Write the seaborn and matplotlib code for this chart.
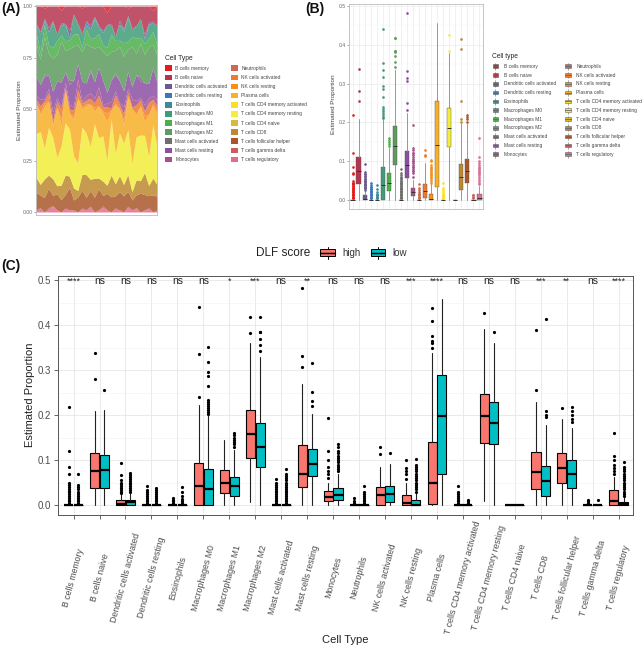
import numpy as np
import pandas as pd
import seaborn as sns
import matplotlib
matplotlib.use('Agg')
import matplotlib.pyplot as plt
from matplotlib.patches import Patch, Rectangle
from matplotlib.lines import Line2D
from matplotlib.legend_handler import HandlerBase
from matplotlib.ticker import MultipleLocator
from matplotlib.transforms import blended_transform_factory

sns.set_theme(style="whitegrid")
plt.rcParams['font.family'] = ['Liberation Sans', 'DejaVu Sans']

# ---------------- data ----------------
cell_types = ["B cells memory", "B cells naive", "Dendritic cells activated",
              "Dendritic cells resting", "Eosinophils", "Macrophages M0",
              "Macrophages M1", "Macrophages M2", "Mast cells activated",
              "Mast cells resting", "Monocytes", "Neutrophils", "NK cells activated",
              "NK cells resting", "Plasma cells", "T cells CD4 memory activated",
              "T cells CD4 memory resting", "T cells CD4 naive", "T cells CD8",
              "T cells follicular helper", "T cells gamma delta", "T cells regulatory"]
cell_colors = ["#E41A1C", "#B5354F", "#6B5A8E", "#3C78B8", "#3A8C9A", "#3F9C78",
               "#4DAF4A", "#5D9B5E", "#6E6E6E", "#8C4FA2", "#A8508A", "#D0674F",
               "#EE7A2A", "#FA8F14", "#F9B027", "#FDDF26", "#F2EE3A", "#D8BA35",
               "#BC8830", "#A9572A", "#C95F5C", "#E26B92"]

# panel A: estimated fractions per sample (30 samples shown)
a_bmem   = [0, 0, .01, 0, 0, 0, .02, 0, 0, 0, 0, .01, 0, 0, 0, 0, 0, .03, 0, 0, 0, 0, .01, 0, 0, 0, 0, 0, .02, 0]
a_bnai   = [.08, .12, .05, .10, .07, .14, .06, .09, .11, .04, .08, .13, .07, .10, .05, .09, .12, .06, .08, .15, .07, .10, .04, .11, .09, .06, .13, .08, .05, .10]
a_dcact  = [0, .01, 0, .02, 0, 0, .01, 0, .03, 0, .01, 0, 0, .02, 0, .01, 0, 0, .01, 0, .02, 0, 0, .01, 0, 0, .02, 0, .01, 0]
a_dcres  = [0, 0, .01, 0, 0, 0, 0, .01, 0, 0, 0, 0, .02, 0, 0, 0, .01, 0, 0, 0, 0, 0, .01, 0, 0, 0, 0, .01, 0, 0]
a_eos    = [0, 0, 0, 0, .01, 0, 0, 0, 0, 0, 0, 0, 0, 0, .01, 0, 0, 0, 0, 0, 0, .01, 0, 0, 0, 0, 0, 0, 0, 0]
a_m0     = [.04, .09, .02, .06, .12, .03, .05, .08, .01, .10, .04, .07, .02, .05, .09, .03, .06, .11, .04, .02, .08, .05, .13, .03, .06, .09, .02, .07, .04, .10]
a_m1     = [.05, .03, .06, .04, .05, .07, .03, .05, .04, .06, .05, .02, .07, .04, .05, .06, .03, .04, .08, .05, .03, .06, .04, .05, .07, .03, .05, .04, .06, .05]
a_m2     = [.15, .12, .18, .10, .16, .13, .20, .11, .14, .17, .09, .15, .19, .12, .16, .10, .14, .18, .13, .11, .17, .15, .12, .20, .10, .16, .13, .18, .11, .14]
a_mcact  = [0, 0, .01, 0, 0, 0, 0, 0, .02, 0, 0, 0, 0, .01, 0, 0, 0, 0, 0, .01, 0, 0, 0, 0, 0, .02, 0, 0, 0, 0]
a_mcres  = [.09, .07, .11, .06, .10, .08, .12, .05, .09, .13, .07, .10, .06, .11, .08, .09, .12, .05, .10, .08, .11, .07, .09, .06, .12, .08, .10, .07, .13, .09]
a_mono   = [.02, .03, .01, .02, .04, .02, .01, .03, .02, .02, .05, .01, .02, .03, .02, .04, .01, .02, .03, .02, .01, .03, .02, .04, .02, .01, .03, .02, .02, .03]
a_neut   = [0, 0, 0, 0, 0, 0, 0, 0, 0, 0, 0, 0, .01, 0, 0, 0, 0, 0, 0, 0, 0, 0, 0, 0, 0, 0, 0, .01, 0, 0]
a_nkact  = [.02, .03, .01, .04, .02, .03, .05, .01, .02, .03, .04, .02, .01, .03, .02, .05, .02, .03, .01, .04, .02, .03, .02, .01, .04, .03, .02, .05, .02, .03]
a_nkres  = [0, .01, .02, 0, .01, 0, .03, .01, 0, .02, 0, .01, .01, 0, .02, 0, .01, .04, 0, .01, 0, .02, .01, 0, .01, 0, .03, 0, .01, .02]
a_plasma = [.14, .08, .20, .12, .05, .25, .10, .16, .07, .18, .30, .09, .13, .22, .06, .15, .11, .19, .04, .24, .12, .08, .17, .27, .10, .14, .06, .21, .09, .16]
a_cd4ma  = [0, .01, 0, 0, .02, 0, 0, .01, 0, 0, 0, .01, 0, 0, .01, 0, 0, 0, .02, 0, 0, 0, .01, 0, 0, 0, 0, .01, 0, 0]
a_cd4mr  = [.20, .24, .15, .22, .18, .14, .19, .26, .21, .16, .13, .23, .20, .17, .25, .19, .22, .12, .24, .15, .21, .18, .23, .14, .20, .22, .17, .13, .25, .19]
a_cd4n   = [0, 0, 0, 0, 0, 0, 0, 0, 0, 0, 0, 0, 0, 0, 0, 0, 0, 0, 0, 0, 0, 0, 0, 0, 0, 0, 0, 0, 0, 0]
a_cd8    = [.07, .05, .09, .06, .08, .04, .07, .10, .05, .06, .03, .08, .11, .06, .09, .05, .07, .04, .10, .06, .08, .05, .09, .04, .07, .06, .10, .05, .08, .06]
a_tfh    = [.08, .06, .07, .09, .05, .08, .06, .07, .10, .05, .07, .09, .06, .08, .07, .10, .05, .08, .07, .06, .09, .07, .08, .05, .06, .09, .07, .06, .08, .07]
a_tgd    = [0, 0, 0, .01, 0, 0, 0, 0, 0, 0, 0, 0, 0, 0, 0, 0, .01, 0, 0, 0, 0, 0, 0, 0, 0, 0, 0, 0, 0, 0]
a_treg   = [.01, .02, 0, .01, .03, .01, 0, .02, .01, .01, 0, .02, .01, .03, 0, .01, .02, .01, 0, .02, .01, 0, .03, .01, .02, 0, .01, .02, 0, .01]

# panel B: all samples, box summaries
b_q1  = [0, .040, 0, 0, 0, 0, .023, .090, 0, .057, .010, 0, .005, 0, .034, 0, .136, 0, .025, .043, 0, 0]
b_med = [0, .076, .003, 0, 0, .039, .045, .140, 0, .089, .020, 0, .024, .002, .143, 0, .186, 0, .059, .074, 0, .004]
b_q3  = [0, .112, .012, 0, 0, .085, .070, .190, 0, .127, .032, 0, .042, .016, .255, 0, .238, 0, .094, .105, 0, .015]
b_hi  = [0, .210, .026, 0, 0, .210, .135, .335, 0, .225, .052, 0, .095, .040, .457, 0, .380, 0, .195, .195, 0, .035]

# panel C: DLF score high / low groups
hi_q1  = [0, .037, 0, 0, 0, 0, .027, .105, 0, .040, .010, 0, 0, 0, .003, 0, .137, 0, .035, .049, 0, 0]
hi_med = [0, .075, .002, 0, 0, .043, .049, .158, 0, .070, .018, 0, .023, .004, .049, 0, .198, 0, .074, .083, 0, .010]
hi_q3  = [0, .115, .011, 0, 0, .093, .077, .212, 0, .134, .032, 0, .040, .023, .141, 0, .246, 0, .117, .116, 0, .033]
hi_lo  = [0, 0, 0, 0, 0, 0, 0, .007, 0, 0, 0, 0, 0, 0, 0, 0, .010, 0, 0, 0, 0, 0]
hi_hi  = [0, .210, .025, 0, 0, .222, .145, .360, 0, .268, .050, 0, .085, .050, .337, 0, .391, 0, .230, .192, 0, .062]
hi_fliers = [
    [.004, .008, .012, .016, .02, .024, .028, .032, .036, .04, .045, .049, .07, .084, .12, .218],
    [.28, .338],
    [.027, .03, .034, .038, .042, .046, .05, .055, .066, .094],
    [.004, .008, .012, .016, .02, .024, .028, .033, .043],
    [.004, .008, .012, .016],
    [.239, .336, .44],
    [],
    [.382, .417],
    [.004, .008, .012, .016, .02, .024, .028, .032, .036, .04, .045, .05, .057],
    [.306, .332, .483],
    [.06, .07, .075, .085, .1, .12, .193],
    [.004, .008, .015],
    [.113, .13],
    [.058, .068, .075, .082, .1],
    [.35, .36, .365, .375, .41, .438],
    [.004, .008, .012, .016, .02, .025, .03, .043],
    [.426],
    [],
    [.255, .39],
    [.215],
    [.004, .008, .012],
    [.07, .075, .082, .09, .1, .11, .16],
]
lo_q1  = [0, .038, .001, 0, 0, 0, .021, .085, 0, .065, .012, 0, .007, 0, .068, 0, .135, 0, .021, .038, 0, 0]
lo_med = [0, .077, .006, 0, 0, .035, .042, .128, 0, .092, .022, 0, .025, .001, .198, 0, .182, 0, .054, .069, 0, .002]
lo_q3  = [0, .112, .012, 0, 0, .081, .063, .183, 0, .124, .038, 0, .043, .012, .288, 0, .229, 0, .087, .099, 0, .007]
lo_lo  = [0, 0, 0, 0, 0, 0, 0, 0, 0, 0, 0, 0, 0, 0, 0, 0, 0, 0, 0, 0, 0, 0]
lo_hi  = [0, .211, .028, 0, 0, .200, .123, .330, 0, .202, .070, 0, .092, .028, .457, 0, .360, 0, .178, .172, 0, .017]
lo_fliers = [
    [.004, .008, .012, .016, .02, .025, .03, .035, .04, .045, .068],
    [.255],
    [.03, .034, .038, .042, .046, .05, .054, .058, .062, .066, .072],
    [.004, .008, .012, .016, .02, .024, .028, .033, .038],
    [.004, .008, .013, .02, .028, .039],
    [.203, .207, .211, .215, .22, .225, .23, .234, .265, .287, .295, .318, .352],
    [.13, .135, .14, .145, .15, .155, .16],
    [.342, .355, .37, .384, .385, .417],
    [.004, .008, .012, .016, .02, .024, .028, .032, .036, .04, .045, .05, .055, .06, .065, .07, .08],
    [.22, .232, .251, .315],
    [.075, .08, .085, .09, .095, .1, .105, .11, .115, .12, .128, .135],
    [.004, .008, .012, .016, .02, .025, .03, .042],
    [.115],
    [.03, .035, .04, .045, .05, .055, .06, .065, .07, .075, .08, .085, .09, .103],
    [],
    [.004, .008, .012],
    [.385],
    [],
    [.195, .2, .21, .414],
    [.185, .192, .2, .21, .218],
    [.012],
    [.02, .025, .03, .035, .04, .045, .05, .055, .06, .065, .07, .075, .08, .085, .095],
]
sig_labels = ["****", "ns", "ns", "ns", "ns", "ns", "*", "***", "ns", "**", "ns",
              "ns", "ns", "***", "****", "ns", "ns", "ns", "***", "**", "ns", "****"]
group_colors = {"high": "#F8766D", "low": "#00BFC4"}


class BoxKey(HandlerBase):
    """legend key that looks like a small boxplot"""
    def __init__(self, lw=0.5):
        super().__init__()
        self.lw = lw

    def create_artists(self, legend, orig, xd, yd, w, h, fontsize, trans):
        fc, ec = orig.get_facecolor(), orig.get_edgecolor()
        x0, x1 = -xd + 0.12 * w, -xd + 0.88 * w
        y0, y1 = -yd + 0.15 * h, -yd + 0.85 * h
        xm = -xd + w / 2
        whisk = Line2D([xm, xm], [-yd - 0.15 * h, -yd + 1.15 * h], color=ec, lw=self.lw)
        rect = Rectangle((x0, y0), x1 - x0, y1 - y0, facecolor=fc, edgecolor=ec, lw=self.lw)
        med = Line2D([x0, x1], [-yd + h / 2] * 2, color=ec, lw=self.lw * 1.5)
        for a in (whisk, rect, med):
            a.set_transform(trans)
        return [whisk, rect, med]


def make_stats(q1, med, q3, lo, hi, fl):
    return [dict(q1=a, med=b, q3=c, whislo=d, whishi=e, fliers=f)
            for a, b, c, d, e, f in zip(q1, med, q3, lo, hi, fl)]


W, H = 642, 648
fig = plt.figure(figsize=(W / 100, H / 100), dpi=100)


def fx(px):
    return px / W


def fy(py):
    return 1 - py / H


# ---------------- panel A ----------------
ax_a = fig.add_axes([fx(36), fy(215), 121 / W, 210 / H])
a_lists = [a_bmem, a_bnai, a_dcact, a_dcres, a_eos, a_m0, a_m1, a_m2, a_mcact, a_mcres,
           a_mono, a_neut, a_nkact, a_nkres, a_plasma, a_cd4ma, a_cd4mr, a_cd4n,
           a_cd8, a_tfh, a_tgd, a_treg]
frac = pd.DataFrame(np.array(a_lists).T, columns=cell_types)
frac = frac.div(frac.sum(axis=1), axis=0)
xs = np.arange(len(frac))
# first cell type on top, as in ggplot stacking
ax_a.stackplot(xs, *[frac[c].values for c in cell_types[::-1]],
               colors=cell_colors[::-1], alpha=0.85, linewidth=0)
ax_a.set_xlim(xs[0], xs[-1])
ax_a.set_ylim(-0.0146, 1.005)
ax_a.set_yticks([0, 0.25, 0.5, 0.75, 1.0])
ax_a.set_yticklabels(["0.00", "0.25", "0.50", "0.75", "1.00"])
ax_a.set_xticks([])
ax_a.grid(False)
ax_a.tick_params(axis='y', labelsize=3.6, colors='#666666', length=1.5, width=0.4, pad=1, left=True)
for s in ax_a.spines.values():
    s.set_color('#BBBBBB')
    s.set_linewidth(0.6)
fig.text(fx(20), fy(110), "Estimated Proportion", rotation=90, ha='center', va='center',
         fontsize=4.6, color='#444444')

leg_a = fig.legend(handles=[Patch(facecolor=c, edgecolor='none') for c in cell_colors],
                   labels=cell_types, ncol=2, loc='upper left',
                   bbox_to_anchor=(fx(165), fy(55)), frameon=False, fontsize=3.5,
                   title="Cell Type", title_fontsize=4.8, alignment='left',
                   handlelength=1.45, handleheight=1.4, labelspacing=0.72,
                   handletextpad=0.7, columnspacing=0.7, borderpad=0, borderaxespad=0)
for t in leg_a.get_texts():
    t.set_color('#444444')

# ---------------- panel B ----------------
ax_b = fig.add_axes([fx(349), fy(209), 134 / W, 205 / H])
pos = np.arange(len(cell_types))
b_fliers = [sorted(f for f in h + l if f > top) for h, l, top in zip(hi_fliers, lo_fliers, b_hi)]
b_stats = make_stats(b_q1, b_med, b_q3, [0] * len(b_q1), b_hi, b_fliers)
art_b = ax_b.bxp(b_stats, positions=pos, widths=0.72, patch_artist=True, showcaps=False,
                 boxprops=dict(linewidth=0.3, edgecolor='#555555'),
                 whiskerprops=dict(color='#8A8A8A', linewidth=0.6),
                 medianprops=dict(color='#333333', linewidth=0.7),
                 flierprops=dict(marker='o', markersize=1.9, markeredgecolor='none'),
                 manage_ticks=False)
for i, c in enumerate(cell_colors):
    art_b['boxes'][i].set_facecolor(c)
    art_b['fliers'][i].set_markerfacecolor(c)
ax_b.set_xlim(-0.6, 21.6)
ax_b.set_ylim(-0.0232, 0.5052)
ax_b.set_xticks(pos)
ax_b.set_xticklabels([])
ax_b.set_yticks([0, .1, .2, .3, .4, .5])
ax_b.set_yticklabels(["0.0", "0.1", "0.2", "0.3", "0.4", "0.5"])
ax_b.yaxis.set_minor_locator(MultipleLocator(0.05))
ax_b.grid(which='major', color='#EBEBEB', linewidth=0.5)
ax_b.grid(which='minor', axis='y', color='#F3F3F3', linewidth=0.35)
ax_b.set_axisbelow(True)
ax_b.tick_params(axis='y', labelsize=3.6, colors='#666666', length=1.5, width=0.4, pad=1, left=True)
ax_b.tick_params(axis='x', length=0)
for s in ax_b.spines.values():
    s.set_color('#BBBBBB')
    s.set_linewidth(0.6)
fig.text(fx(334), fy(104), "Estimated Proportion", rotation=90, ha='center', va='center',
         fontsize=4.6, color='#444444')

leg_b = fig.legend(handles=[Patch(facecolor=c, edgecolor='#666666') for c in cell_colors],
                   labels=cell_types, ncol=2, loc='upper left',
                   bbox_to_anchor=(fx(492), fy(53)), frameon=False, fontsize=3.5,
                   title="Cell type", title_fontsize=4.8, alignment='left',
                   handlelength=1.4, handleheight=1.25, labelspacing=0.74,
                   handletextpad=1.0, columnspacing=1.8, borderpad=0, borderaxespad=0,
                   handler_map={Patch: BoxKey(0.4)})
for t in leg_b.get_texts():
    t.set_color('#444444')

# ---------------- panel C ----------------
ax_c = fig.add_axes([fx(58), fy(515), 575 / W, 239 / H])
hi_stats = make_stats(hi_q1, hi_med, hi_q3, hi_lo, hi_hi, hi_fliers)
lo_stats = make_stats(lo_q1, lo_med, lo_q3, lo_lo, lo_hi, lo_fliers)
for stats, shift, grp in [(hi_stats, -0.1875, "high"), (lo_stats, 0.1875, "low")]:
    ax_c.bxp(stats, positions=pos + shift, widths=0.35, patch_artist=True, showcaps=False,
             boxprops=dict(facecolor=group_colors[grp], edgecolor='black', linewidth=0.8),
             whiskerprops=dict(color='#222222', linewidth=0.8),
             medianprops=dict(color='black', linewidth=1.6),
             flierprops=dict(marker='o', markersize=2.3, markerfacecolor='black',
                             markeredgecolor='none'),
             manage_ticks=False)
ax_c.set_xlim(-0.6, 21.55)
ax_c.set_ylim(-0.0222, 0.509)
ax_c.set_xticks(pos)
ax_c.set_xticklabels([])
ax_c.set_yticks([0, .1, .2, .3, .4, .5])
ax_c.set_yticklabels(["0.0", "0.1", "0.2", "0.3", "0.4", "0.5"])
ax_c.yaxis.set_minor_locator(MultipleLocator(0.05))
ax_c.grid(which='major', color='#E6E6E6', linewidth=0.6)
ax_c.grid(which='minor', axis='y', color='#F1F1F1', linewidth=0.4)
ax_c.set_axisbelow(True)
ax_c.tick_params(axis='both', which='major', labelsize=7, colors='#4D4D4D', length=3,
                 width=0.6, pad=2, left=True, bottom=True)
ax_c.tick_params(axis='both', which='minor', length=0)
for s in ax_c.spines.values():
    s.set_color('#555555')
    s.set_linewidth(0.7)

for i, s in enumerate(sig_labels):
    ax_c.text(i, 0.497, s, ha='center', va='center', fontsize=7.5 if s == "ns" else 6.5,
              color='#222222')

trans = blended_transform_factory(ax_c.transData, ax_c.transAxes)
for i, name in enumerate(cell_types):
    ax_c.text(i, -0.262, name, rotation=75, ha='center', va='center', rotation_mode='anchor',
              transform=trans, fontsize=6.3, color='#4D4D4D')

fig.text(fx(30), fy(395), "Estimated Proportion", rotation=90, ha='center', va='center',
         fontsize=8, color='#222222')
fig.text(fx(345), fy(640), "Cell Type", ha='center', va='center', fontsize=8, color='#222222')

fig.text(fx(310), fy(253), "DLF score", ha='right', va='center', fontsize=8.5, color='#222222')
leg_c = fig.legend(handles=[Patch(facecolor=group_colors["high"], edgecolor='black'),
                            Patch(facecolor=group_colors["low"], edgecolor='black')],
                   labels=["high", "low"], ncol=2, loc='center left',
                   bbox_to_anchor=(fx(318), fy(253)), frameon=False, fontsize=7,
                   handlelength=2.0, handleheight=1.1, handletextpad=0.5,
                   columnspacing=0.8, borderpad=0, borderaxespad=0,
                   handler_map={Patch: BoxKey(0.7)})
for t in leg_c.get_texts():
    t.set_color('#333333')

# panel tags
for tag, px, py in [("(A)", 1, 9), ("(B)", 305, 9), ("(C)", 1, 266)]:
    fig.text(fx(px), fy(py), tag, ha='left', va='center', fontsize=10, fontweight='bold',
             color='#111111')

fig.savefig("out.png", dpi=100)
